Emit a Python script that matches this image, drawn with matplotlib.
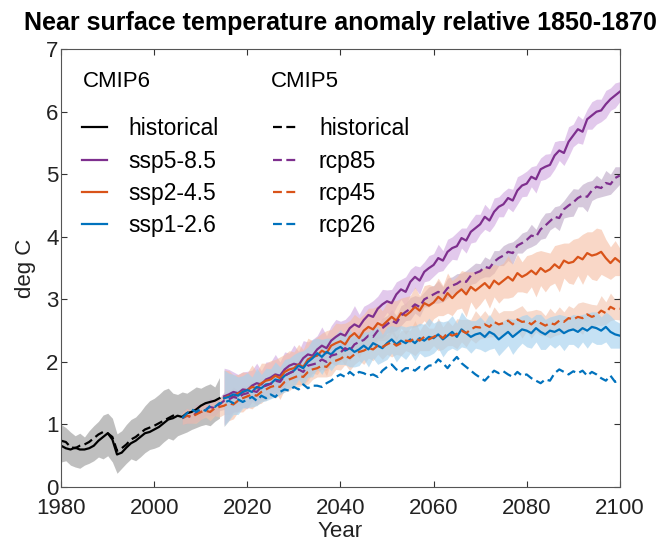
import numpy as np
import matplotlib.pyplot as plt

plt.rcParams['font.family'] = ['Liberation Sans', 'DejaVu Sans']

# years
hist_years = np.arange(1980, 2015)
hist5_years = np.arange(1980, 2006)
ssp_years = np.arange(2015, 2101)
rcp_years = np.arange(2006, 2101)

# CMIP6 historical mean and model range
hist6 = [0.66, 0.62, 0.60, 0.63, 0.60, 0.60, 0.62, 0.66, 0.74, 0.80,
         0.86, 0.76, 0.52, 0.55, 0.63, 0.70, 0.74, 0.80, 0.86, 0.88,
         0.92, 0.96, 1.02, 1.08, 1.10, 1.14, 1.12, 1.18, 1.20, 1.24,
         1.30, 1.34, 1.36, 1.38, 1.42]
hist6_low = [0.40, 0.42, 0.35, 0.32, 0.30, 0.35, 0.38, 0.42, 0.48, 0.45,
             0.50, 0.40, 0.22, 0.30, 0.38, 0.45, 0.42, 0.48, 0.55, 0.60,
             0.62, 0.65, 0.72, 0.78, 0.75, 0.82, 0.85, 0.88, 0.92, 0.95,
             0.98, 1.00, 0.98, 1.05, 1.10]
hist6_high = [1.00, 0.95, 0.88, 0.82, 0.86, 0.80, 0.90, 0.98, 1.05, 1.15,
              1.18, 1.10, 0.85, 0.90, 1.00, 1.08, 1.12, 1.20, 1.30, 1.38,
              1.42, 1.48, 1.55, 1.58, 1.50, 1.48, 1.52, 1.50, 1.55, 1.60,
              1.58, 1.62, 1.65, 1.60, 1.75]

# CMIP5 historical mean
hist5 = [0.74, 0.72, 0.64, 0.62, 0.66, 0.68, 0.72, 0.78, 0.84, 0.88,
         0.86, 0.80, 0.58, 0.62, 0.68, 0.76, 0.80, 0.86, 0.92, 0.95,
         0.98, 1.02, 1.06, 1.10, 1.14, 1.15]

# CMIP6 scenarios 2015-2100 (mean and half spread)
ssp585 = [1.45, 1.48, 1.52, 1.50, 1.56, 1.55, 1.62, 1.66, 1.64, 1.72,
          1.75, 1.80, 1.78, 1.88, 1.94, 1.97, 1.95, 2.06, 2.12, 2.10,
          2.20, 2.26, 2.22, 2.34, 2.40, 2.45, 2.42, 2.54, 2.60, 2.56,
          2.67, 2.75, 2.72, 2.85, 2.92, 2.97, 2.94, 3.08, 3.16, 3.12,
          3.28, 3.36, 3.30, 3.44, 3.50, 3.55, 3.66, 3.62, 3.76, 3.82,
          3.85, 3.98, 3.94, 4.08, 4.14, 4.20, 4.32, 4.26, 4.40, 4.48,
          4.52, 4.62, 4.58, 4.74, 4.82, 4.85, 4.96, 4.92, 5.08, 5.12,
          5.15, 5.30, 5.38, 5.34, 5.52, 5.62, 5.72, 5.68, 5.88, 5.94,
          6.00, 6.02, 6.12, 6.20, 6.26, 6.32]
ssp585_sd = [0.45, 0.40, 0.32, 0.30, 0.28, 0.30, 0.25, 0.32, 0.22, 0.28,
             0.25, 0.32, 0.22, 0.28, 0.20, 0.30, 0.22, 0.28, 0.20, 0.26,
             0.22, 0.30, 0.20, 0.24, 0.28, 0.20, 0.26, 0.22, 0.30, 0.20,
             0.22, 0.18, 0.26, 0.20, 0.24, 0.18, 0.22, 0.20, 0.16, 0.24,
             0.20, 0.18, 0.22, 0.16, 0.20, 0.18, 0.22, 0.16, 0.20, 0.18,
             0.22, 0.16, 0.20, 0.18, 0.22, 0.16, 0.20, 0.18, 0.22, 0.16,
             0.20, 0.16, 0.18, 0.22, 0.18, 0.20, 0.16, 0.22, 0.18, 0.20,
             0.18, 0.22, 0.16, 0.20, 0.24, 0.18, 0.22, 0.20, 0.16, 0.22,
             0.20, 0.18, 0.22, 0.18, 0.20, 0.16]
ssp245 = [1.42, 1.46, 1.44, 1.50, 1.52, 1.55, 1.60, 1.58, 1.66, 1.70,
          1.72, 1.78, 1.74, 1.84, 1.88, 1.90, 1.96, 1.92, 2.04, 2.08,
          2.10, 2.18, 2.14, 2.26, 2.30, 2.33, 2.28, 2.40, 2.46, 2.38,
          2.50, 2.56, 2.52, 2.62, 2.58, 2.65, 2.72, 2.66, 2.78, 2.74,
          2.80, 2.88, 2.82, 2.94, 2.90, 2.95, 3.04, 2.98, 3.10, 3.02,
          3.10, 3.16, 3.08, 3.20, 3.14, 3.20, 3.26, 3.18, 3.30, 3.24,
          3.30, 3.36, 3.30, 3.42, 3.36, 3.40, 3.46, 3.40, 3.50, 3.44,
          3.48, 3.56, 3.50, 3.62, 3.58, 3.60, 3.68, 3.64, 3.74, 3.70,
          3.72, 3.76, 3.66, 3.58, 3.66, 3.60]
ssp245_sd = [0.45, 0.40, 0.35, 0.30, 0.32, 0.28, 0.35, 0.26, 0.32, 0.28,
             0.30, 0.26, 0.34, 0.28, 0.30, 0.26, 0.32, 0.28, 0.34, 0.26,
             0.30, 0.28, 0.36, 0.26, 0.32, 0.28, 0.34, 0.26, 0.30, 0.32,
             0.26, 0.30, 0.34, 0.28, 0.24, 0.30, 0.26, 0.32, 0.24, 0.30,
             0.26, 0.32, 0.24, 0.28, 0.34, 0.26, 0.30, 0.24, 0.32, 0.28,
             0.26, 0.30, 0.36, 0.24, 0.30, 0.28, 0.24, 0.32, 0.26, 0.30,
             0.28, 0.34, 0.26, 0.30, 0.24, 0.30, 0.26, 0.36, 0.28, 0.32,
             0.26, 0.30, 0.38, 0.28, 0.32, 0.36, 0.30, 0.40, 0.34, 0.38,
             0.42, 0.36, 0.30, 0.26, 0.28, 0.22]
ssp126 = [1.42, 1.44, 1.48, 1.46, 1.52, 1.55, 1.52, 1.60, 1.58, 1.64,
          1.65, 1.72, 1.70, 1.78, 1.82, 1.86, 1.94, 1.90, 2.00, 2.06,
          2.14, 2.08, 2.16, 2.12, 2.20, 2.24, 2.18, 2.22, 2.16, 2.20,
          2.26, 2.20, 2.30, 2.26, 2.22, 2.30, 2.36, 2.28, 2.34, 2.30,
          2.36, 2.30, 2.38, 2.34, 2.40, 2.38, 2.44, 2.36, 2.42, 2.48,
          2.40, 2.52, 2.46, 2.40, 2.44, 2.46, 2.40, 2.48, 2.44, 2.36,
          2.42, 2.48, 2.40, 2.46, 2.52, 2.50, 2.46, 2.54, 2.48, 2.44,
          2.50, 2.48, 2.52, 2.46, 2.50, 2.52, 2.48, 2.54, 2.50, 2.56,
          2.54, 2.50, 2.56, 2.48, 2.44, 2.42]
ssp126_sd = [0.45, 0.38, 0.32, 0.30, 0.26, 0.28, 0.24, 0.30, 0.22, 0.26,
             0.24, 0.28, 0.22, 0.26, 0.24, 0.26, 0.22, 0.28, 0.24, 0.30,
             0.24, 0.28, 0.22, 0.26, 0.24, 0.28, 0.22, 0.30, 0.24, 0.26,
             0.22, 0.28, 0.24, 0.30, 0.22, 0.26, 0.22, 0.28, 0.24, 0.26,
             0.22, 0.28, 0.24, 0.26, 0.30, 0.24, 0.22, 0.28, 0.24, 0.26,
             0.22, 0.28, 0.24, 0.26, 0.22, 0.26, 0.24, 0.28, 0.22, 0.26,
             0.24, 0.22, 0.28, 0.24, 0.22, 0.26, 0.24, 0.22, 0.28, 0.24,
             0.22, 0.26, 0.24, 0.28, 0.22, 0.24, 0.26, 0.22, 0.28, 0.24,
             0.26, 0.22, 0.24, 0.26, 0.22, 0.20]

# CMIP5 scenarios 2006-2100
rcp85 = [1.10, 1.14, 1.12, 1.18,
         1.20, 1.24, 1.28, 1.26, 1.32, 1.38, 1.40, 1.44, 1.42, 1.48,
         1.50, 1.54, 1.52, 1.60, 1.62, 1.65, 1.70, 1.68, 1.78, 1.82,
         1.85, 1.88, 1.84, 1.94, 1.96, 1.98, 2.04, 2.00, 2.10, 2.12,
         2.15, 2.22, 2.18, 2.28, 2.32, 2.35, 2.42, 2.40, 2.50, 2.54,
         2.60, 2.66, 2.62, 2.74, 2.80, 2.85, 2.92, 2.88, 3.00, 3.04,
         3.08, 3.12, 3.08, 3.18, 3.22, 3.25, 3.30, 3.28, 3.38, 3.42,
         3.45, 3.52, 3.50, 3.60, 3.66, 3.70, 3.76, 3.74, 3.86, 3.90,
         3.95, 4.02, 4.00, 4.12, 4.18, 4.25, 4.32, 4.30, 4.44, 4.50,
         4.55, 4.62, 4.66, 4.64, 4.74, 4.80, 4.78, 4.86, 4.84, 4.94,
         4.98]
rcp85_sd = [0.10, 0.12, 0.10, 0.14,
            0.12, 0.10, 0.14, 0.12, 0.10, 0.14, 0.12, 0.16, 0.12, 0.14,
            0.12, 0.16, 0.12, 0.14, 0.12, 0.16, 0.12, 0.14, 0.18, 0.12,
            0.14, 0.16, 0.12, 0.18, 0.14, 0.12, 0.16, 0.14, 0.12, 0.18,
            0.14, 0.12, 0.16, 0.14, 0.18, 0.12, 0.16, 0.14, 0.12, 0.16,
            0.14, 0.18, 0.12, 0.16, 0.14, 0.18, 0.14, 0.16, 0.12, 0.16,
            0.14, 0.18, 0.12, 0.16, 0.14, 0.16, 0.12, 0.18, 0.14, 0.16,
            0.12, 0.16, 0.14, 0.18, 0.12, 0.16, 0.14, 0.18, 0.12, 0.16,
            0.14, 0.18, 0.12, 0.16, 0.20, 0.14, 0.16, 0.20, 0.14, 0.18,
            0.22, 0.14, 0.18, 0.24, 0.16, 0.18, 0.14, 0.20, 0.16, 0.18,
            0.14]
rcp45 = [1.10, 1.14, 1.12, 1.16,
         1.20, 1.22, 1.20, 1.26, 1.28, 1.30, 1.34, 1.32, 1.38, 1.42,
         1.45, 1.48, 1.46, 1.52, 1.56, 1.60, 1.62, 1.60, 1.68, 1.72,
         1.75, 1.78, 1.76, 1.84, 1.88, 1.90, 1.94, 1.92, 2.00, 2.02,
         2.05, 2.10, 2.06, 2.12, 2.16, 2.18, 2.22, 2.20, 2.26, 2.24,
         2.28, 2.32, 2.26, 2.30, 2.34, 2.33, 2.38, 2.34, 2.40, 2.36,
         2.40, 2.44, 2.38, 2.46, 2.42, 2.45, 2.50, 2.46, 2.52, 2.56,
         2.55, 2.60, 2.56, 2.64, 2.60, 2.62, 2.66, 2.60, 2.68, 2.64,
         2.65, 2.60, 2.66, 2.62, 2.58, 2.62, 2.60, 2.66, 2.64, 2.70,
         2.68, 2.72, 2.70, 2.76, 2.72, 2.75, 2.82, 2.78, 2.88, 2.84,
         2.85]
rcp45_sd = [0.10, 0.12, 0.10, 0.14,
            0.12, 0.10, 0.14, 0.12, 0.16, 0.14, 0.18, 0.12, 0.16, 0.14,
            0.18, 0.12, 0.16, 0.14, 0.18, 0.14, 0.20, 0.12, 0.16, 0.18,
            0.14, 0.18, 0.12, 0.20, 0.16, 0.14, 0.18, 0.16, 0.22, 0.14,
            0.18, 0.14, 0.20, 0.16, 0.14, 0.22, 0.16, 0.18, 0.14, 0.20,
            0.16, 0.24, 0.14, 0.20, 0.16, 0.18, 0.28, 0.16, 0.22, 0.18,
            0.14, 0.26, 0.18, 0.20, 0.16, 0.24, 0.18, 0.22, 0.16, 0.26,
            0.18, 0.22, 0.16, 0.24, 0.18, 0.20, 0.16, 0.22, 0.18, 0.26,
            0.16, 0.22, 0.18, 0.20, 0.16, 0.24, 0.18, 0.22, 0.16, 0.20,
            0.18, 0.22, 0.26, 0.18, 0.20, 0.16, 0.24, 0.18, 0.22, 0.16,
            0.18]
rcp26 = [1.10, 1.18, 1.24, 1.20,
         1.25, 1.22, 1.30, 1.28, 1.34, 1.35, 1.38, 1.34, 1.40, 1.36,
         1.40, 1.44, 1.38, 1.46, 1.42, 1.48, 1.44, 1.52, 1.56, 1.54,
         1.60, 1.56, 1.64, 1.58, 1.62, 1.62, 1.60, 1.66, 1.70, 1.76,
         1.80, 1.76, 1.84, 1.78, 1.84, 1.82, 1.78, 1.80, 1.76, 1.86,
         1.92, 1.96, 1.88, 1.84, 1.90, 1.90, 1.86, 1.92, 1.88, 1.94,
         1.95, 2.04, 1.98, 1.90, 2.00, 2.08, 1.98, 1.92, 1.86, 1.80,
         1.75, 1.70, 1.78, 1.86, 1.82, 1.85, 1.80, 1.76, 1.84, 1.78,
         1.80, 1.74, 1.70, 1.66, 1.72, 1.70, 1.82, 1.88, 1.84, 1.80,
         1.85, 1.82, 1.86, 1.78, 1.84, 1.80, 1.74, 1.70, 1.78, 1.68,
         1.72]

purple = '#7E2F8E'
orange = '#D95319'
blue = '#0072BD'

fig = plt.figure(figsize=(6.65, 5.46), dpi=100)
ax = fig.add_axes([0.092, 0.108, 0.840, 0.802])

# shaded ranges
ax.fill_between(hist_years, hist6_low, hist6_high, color='#b0b0b0', alpha=0.8, lw=0)
for yrs, m, s, c, a in [(rcp_years, rcp85, rcp85_sd, '#bba6c6', 0.6),
                        (rcp_years, rcp45, rcp45_sd, '#f2c2aa', 0.6),
                        (ssp_years, ssp585, ssp585_sd, '#d7b3e4', 0.7),
                        (ssp_years, ssp245, ssp245_sd, '#f5bda2', 0.6),
                        (ssp_years, ssp126, ssp126_sd, '#a6d2ef', 0.65)]:
    m = np.array(m)
    s = np.array(s)
    ax.fill_between(yrs, m - s, m + s, color=c, alpha=a, lw=0)

# lines
dash = (0, (4, 2))
l1, = ax.plot(hist_years, hist6, color='k', lw=1.6)
l2, = ax.plot(ssp_years, ssp585, color=purple, lw=1.6)
l3, = ax.plot(ssp_years, ssp245, color=orange, lw=1.6)
l4, = ax.plot(ssp_years, ssp126, color=blue, lw=1.6)
l5, = ax.plot(hist5_years, hist5, color='k', lw=1.6, ls=dash)
l6, = ax.plot(rcp_years, rcp85, color=purple, lw=1.6, ls=dash)
l7, = ax.plot(rcp_years, rcp45, color=orange, lw=1.6, ls=dash)
l8, = ax.plot(rcp_years, rcp26, color=blue, lw=1.6, ls=dash)

ax.legend([l1, l2, l3, l4, l5, l6, l7, l8],
          ['historical', 'ssp5-8.5', 'ssp2-4.5', 'ssp1-2.6',
           'historical', 'rcp85', 'rcp45', 'rcp26'],
          ncol=2, loc='upper left', bbox_to_anchor=(0.021, 0.865), frameon=False,
          fontsize=16.5, handlelength=1.1, handletextpad=0.9,
          columnspacing=2.4, labelspacing=0.4, borderaxespad=0)
ax.text(0.038, 0.925, 'CMIP6', transform=ax.transAxes, fontsize=16, va='center')
ax.text(0.376, 0.925, 'CMIP5', transform=ax.transAxes, fontsize=16, va='center')

ax.set_xlim(1980, 2100)
ax.set_ylim(0, 7)
ax.set_xticks(range(1980, 2101, 20))
ax.set_yticks(range(0, 8))
ax.tick_params(direction='in', top=True, right=True, length=4, width=0.8,
               labelsize=16, pad=2, colors='#333333', labelcolor='#222222')
ax.tick_params(axis='x', pad=8)
for sp in ax.spines.values():
    sp.set_color('#555555')
    sp.set_linewidth(0.8)
ax.set_xlabel('Year', fontsize=16, labelpad=1, color='#222222')
ax.set_ylabel('deg C', fontsize=16, labelpad=7, color='#222222')
ax.set_title('Near surface temperature anomaly relative 1850-1870',
             fontsize=18, fontweight='bold', pad=14)

plt.savefig('out.png', dpi=100)
